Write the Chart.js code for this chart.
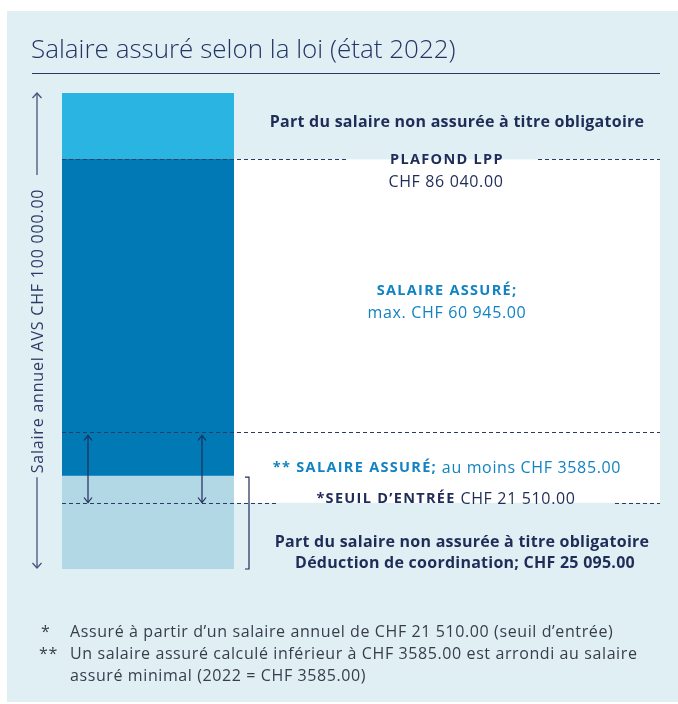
<!DOCTYPE html>
<html lang="fr">
<head>
<meta charset="utf-8">
<script src="https://cdn.jsdelivr.net/npm/chart.js@4/dist/chart.umd.min.js"></script>
<style>
  html, body { margin: 0; padding: 0; background: #ffffff; }
  body { width: 678px; height: 704px; position: relative; overflow: hidden; font-family: "Open Sans", Lato, sans-serif; }
  #panel { position: absolute; left: 7px; top: 11px; width: 671px; height: 691px; background: #dfeff4; }
  #title { position: absolute; left: 31px; top: 33px; font-size: 26px; line-height: 30px; font-weight: 300; color: #243463; white-space: nowrap; z-index: 2; }
  #rule { position: absolute; left: 32px; top: 73px; width: 628px; height: 1px; background: #2a3966; z-index: 2; }
  #chart { position: absolute; left: 0; top: 0; z-index: 1; }
  .fn { position: absolute; font-size: 16px; line-height: 22px; letter-spacing: 0.6px; color: #383d4c; white-space: nowrap; z-index: 2; }
</style>
</head>
<body>
<div id="panel"></div>
<div id="title">Salaire assuré selon la loi (état 2022)</div>
<div id="rule"></div>
<canvas id="chart" width="678" height="704"></canvas>
<div class="fn" style="left:41px; top:620px;">*</div>
<div class="fn" style="left:70px; top:620px;">Assuré à partir d’un salaire annuel de CHF 21 510.00 (seuil d’entrée)</div>
<div class="fn" style="left:39px; top:642px;">**</div>
<div class="fn" style="left:70px; top:642px;">Un salaire assuré calculé inférieur à CHF 3585.00 est arrondi au salaire</div>
<div class="fn" style="left:70px; top:664px;">assuré minimal (2022 = CHF 3585.00)</div>
<script>
// ---- data (schematic bar; axis 0 – 100 000 CHF) ----
const categories = ['Salaire annuel AVS'];
const segmentNames = ['Déduction de coordination', 'Salaire assuré', 'Part non assurée'];
const segmentValues = [19500, 66540, 13960];          // stacked segments, total 100 000
const axisMin = 0;
const axisMax = 100000;
const plafondLPP = 86040;                              // PLAFOND LPP line
const minInsuredLine = 28680;                          // upper end of ** minimum insured arrows
const seuilLine = 13900;                               // *SEUIL D'ENTRÉE line (as drawn)

// ---- styles ----
const segmentColors = ['#b2d8e6', '#0079b5', '#29b4e2'];
const NAVY = '#1f2c58';
const BLUE = '#1283c2';
const FONT = '"Open Sans", Lato, sans-serif';

function runs(ctx, parts, cx, cy) {
  let widths = [], total = 0;
  parts.forEach(p => {
    ctx.font = p.font; ctx.letterSpacing = p.ls || '0px';
    const w = ctx.measureText(p.text).width;
    widths.push(w); total += w;
  });
  let x = cx - total / 2;
  ctx.textAlign = 'left'; ctx.textBaseline = 'middle';
  parts.forEach((p, i) => {
    ctx.font = p.font; ctx.letterSpacing = p.ls || '0px';
    ctx.fillStyle = p.color;
    ctx.fillText(p.text, x, cy);
    x += widths[i];
  });
  ctx.letterSpacing = '0px';
}

function head(ctx, x, y, dir, w, h) {
  ctx.beginPath();
  ctx.moveTo(x - w, y + dir * h);
  ctx.lineTo(x, y);
  ctx.lineTo(x + w, y + dir * h);
  ctx.stroke();
}

function dashed(ctx, y, x0, x1) {
  ctx.beginPath(); ctx.moveTo(x0, y); ctx.lineTo(x1, y); ctx.stroke();
}

const annotations = {
  id: 'annotations',
  beforeDatasetsDraw(chart) {
    const ctx = chart.ctx, ys = chart.scales.y, a = chart.chartArea;
    const t = ys.getPixelForValue(plafondLPP), b = ys.getPixelForValue(seuilLine);
    ctx.save();
    ctx.fillStyle = '#ffffff';
    ctx.fillRect(a.right, t, 660 - a.right, b - t);
    ctx.restore();
  },
  afterDatasetsDraw(chart) {
    const ctx = chart.ctx, ys = chart.scales.y, a = chart.chartArea;
    const yTop = ys.getPixelForValue(axisMax);
    const yBot = ys.getPixelForValue(axisMin);
    const yPl = Math.round(ys.getPixelForValue(plafondLPP)) + 0.5;
    const yMin = Math.round(ys.getPixelForValue(minInsuredLine)) + 0.5;
    const ySe = Math.round(ys.getPixelForValue(seuilLine)) + 0.5;
    const yCoord = ys.getPixelForValue(segmentValues[0]);
    ctx.save();

    // dashed reference lines
    ctx.strokeStyle = '#2c3a63'; ctx.lineWidth = 1; ctx.setLineDash([4, 3]);
    dashed(ctx, yPl, a.left, 346); dashed(ctx, yPl, 538, 660);
    dashed(ctx, yMin, a.left, 660);
    dashed(ctx, ySe, a.left, 276); dashed(ctx, ySe, 615, 660);
    ctx.setLineDash([]);

    // double arrows inside the bar
    ctx.strokeStyle = '#1f2c58'; ctx.lineWidth = 1.2;
    [88, 202].forEach(x => {
      const y0 = yMin + 3, y1 = ySe - 1;
      ctx.beginPath(); ctx.moveTo(x, y0); ctx.lineTo(x, y1); ctx.stroke();
      head(ctx, x, y0, 1, 4, 5);
      head(ctx, x, y1, -1, 4, 5);
    });

    // left axis arrows
    ctx.strokeStyle = '#44537a'; ctx.lineWidth = 1.3;
    const ax = 37;
    ctx.beginPath(); ctx.moveTo(ax, yTop); ctx.lineTo(ax, 175); ctx.stroke();
    head(ctx, ax, yTop, 1, 4.5, 5);
    ctx.beginPath(); ctx.moveTo(ax, yCoord + 1); ctx.lineTo(ax, yBot - 1); ctx.stroke();
    head(ctx, ax, yBot - 1, -1, 4.5, 5);

    // rotated axis label
    ctx.save();
    ctx.translate(ax + 1, 331);
    ctx.rotate(-Math.PI / 2);
    ctx.font = '16px ' + FONT; ctx.fillStyle = '#2d3b66';
    ctx.letterSpacing = '0.8px';
    ctx.textAlign = 'center'; ctx.textBaseline = 'middle';
    ctx.fillText('Salaire annuel AVS CHF 100 000.00', 0, 0);
    ctx.letterSpacing = '0px';
    ctx.restore();

    // bracket for coordination deduction
    ctx.strokeStyle = '#1f2c58'; ctx.lineWidth = 1.2;
    ctx.beginPath();
    ctx.moveTo(245, yCoord + 1); ctx.lineTo(249, yCoord + 1);
    ctx.lineTo(249, yBot); ctx.lineTo(245, yBot);
    ctx.stroke();

    // texts
    const B = 'bold 16px ' + FONT, R = '16px ' + FONT, BC = 'bold 14.5px ' + FONT;
    const lsB = '0.25px', lsR = '0.65px', lsC = '1.3px';
    runs(ctx, [{text: 'Part du salaire non assurée à titre obligatoire', font: B, color: NAVY, ls: lsB}], 457, 122);
    runs(ctx, [{text: 'PLAFOND LPP', font: BC, color: NAVY, ls: lsC}], 447, yPl);
    runs(ctx, [{text: 'CHF 86 040.00', font: R, color: NAVY, ls: lsR}], 446, 182);
    runs(ctx, [{text: 'SALAIRE ASSURÉ;', font: BC, color: BLUE, ls: lsC}], 447, 291);
    runs(ctx, [{text: 'max. CHF 60 945.00', font: R, color: BLUE, ls: lsR}], 447, 313);
    runs(ctx, [{text: '** SALAIRE ASSURÉ;', font: BC, color: BLUE, ls: lsC},
               {text: ' au moins CHF 3585.00', font: R, color: BLUE, ls: lsR}], 447, 468);
    runs(ctx, [{text: '*SEUIL D’ENTRÉE', font: BC, color: NAVY, ls: lsC},
               {text: ' CHF 21 510.00', font: R, color: NAVY, ls: lsR}], 446, 499);
    runs(ctx, [{text: 'Part du salaire non assurée à titre obligatoire', font: B, color: NAVY, ls: lsB}], 462, 542);
    runs(ctx, [{text: 'Déduction de coordination; CHF 25 095.00', font: B, color: NAVY, ls: lsB}], 465, 563);

    ctx.restore();
  }
};

new Chart(document.getElementById('chart'), {
  type: 'bar',
  data: {
    labels: categories,
    datasets: segmentNames.map((n, i) => ({
      label: n,
      data: [segmentValues[i]],
      backgroundColor: segmentColors[i],
      borderWidth: 0,
      barPercentage: 1,
      categoryPercentage: 1
    }))
  },
  options: {
    responsive: false,
    animation: false,
    layout: { padding: { left: 62, right: 444, top: 93, bottom: 135 } },
    plugins: { legend: { display: false }, tooltip: { enabled: false }, title: { display: false } },
    scales: {
      x: { stacked: true, display: false },
      y: { stacked: true, display: false, min: axisMin, max: axisMax }
    }
  },
  plugins: [annotations]
});
</script>
</body>
</html>
